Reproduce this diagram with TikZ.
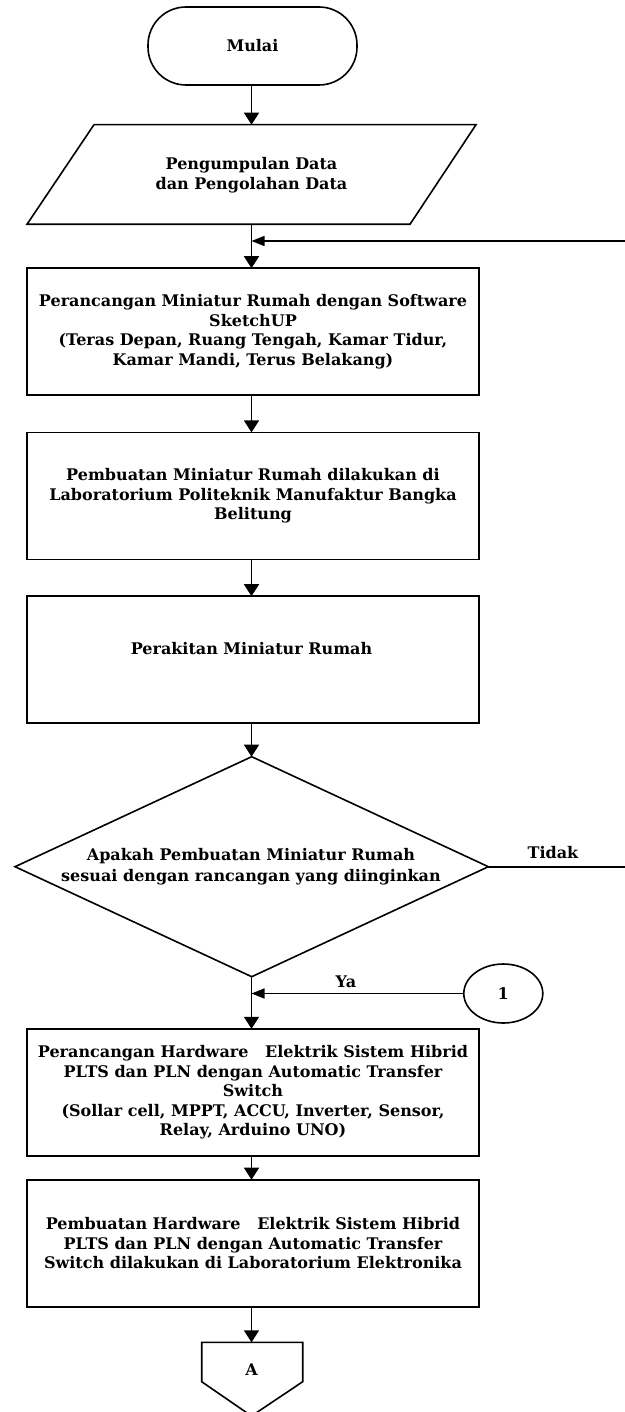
\documentclass[tikz,border=0pt]{standalone}
\usepackage{fontspec}
\setmainfont{DejaVu Serif}
\usetikzlibrary{arrows.meta,shapes.geometric}
\tikzset{
  every node/.style={font=\fontsize{16pt}{19.6pt}\selectfont\bfseries, outer sep=0pt},
  ln/.style={line width=1.6pt},
  box/.style={ln, draw, minimum width=452pt, minimum height=127pt, align=center, inner sep=0pt},
  arr/.style={ln, -{Triangle[length=12pt,width=15pt]}},
  harr/.style={ln, -{Triangle[length=13pt,width=10pt]}},
  txt/.style={align=center, inner sep=0pt},
}
\begin{document}
\begin{tikzpicture}[x=1pt,y=-1pt]
\useasboundingbox (0,0) rectangle (624,1412);
% main column
\coordinate (col) at (251.5,0);
% start
\node[ln, draw, rounded corners=38pt, minimum width=209pt, minimum height=78pt, inner sep=0pt] (mulai) at (252.5,46) {Mulai};
% data (parallelogram)
\coordinate (p1) at (94,124.7);
\coordinate (p2) at (476,124.7);
\coordinate (p3) at (410,224.3);
\coordinate (p4) at (27,224.3);
\draw[ln] (p1) -- (p2) -- (p3) -- (p4) -- cycle;
\node[txt] (data) at (251.5,175) {Pengumpulan Data\\dan Pengolahan Data};
\coordinate (dtop) at (251.5,124.7);
\coordinate (dbot) at (251.5,224.3);
% boxes
\node[box] (r1) at (253,331.7) {Perancangan Miniatur Rumah dengan Software\\SketchUP\\(Teras Depan, Ruang Tengah, Kamar Tidur,\\Kamar Mandi, Terus Belakang)};
\node[box] (r2) at (253,495.9) {Pembuatan Miniatur Rumah dilakukan di\\Laboratorium Politeknik Manufaktur Bangka\\Belitung};
\node[box] (r3) at (253,659.7) {};
\node[txt] (r3t) at (251.5,649) {Perakitan Miniatur Rumah};
% decision
\node[ln, draw, diamond, minimum width=473.3pt, minimum height=220pt, inner sep=0pt] (dec) at (251.7,866.7) {};
\node[txt, font=\fontsize{16pt}{20.7pt}\selectfont\bfseries] (dect) at (251,866.4) {Apakah Pembuatan Miniatur Rumah\\sesuai dengan rancangan yang diinginkan};
\node[box] (r4) at (253,1092.3) {Perancangan Hardware \ \ Elektrik Sistem Hibrid\\PLTS dan PLN dengan Automatic Transfer\\Switch\\(Sollar cell, MPPT, ACCU, Inverter, Sensor,\\Relay, Arduino UNO)};
\node[box] (r5) at (253,1243.2) {Pembuatan Hardware \ \ Elektrik Sistem Hibrid\\PLTS dan PLN dengan Automatic Transfer\\Switch dilakukan di Laboratorium Elektronika};
% connector 1
\node[ln, draw, ellipse, minimum width=79pt, minimum height=59pt, inner sep=0pt] (one) at (503.3,993.5) {1};
% off-page connector A
\coordinate (a1) at (201.7,1342.3);
\coordinate (a2) at (302.7,1342.3);
\coordinate (a3) at (302.7,1381.7);
\coordinate (a4) at (251.5,1416);
\coordinate (a5) at (201.7,1381.7);
\draw[ln] (a1) -- (a2) -- (a3) -- (a4) -- (a5) -- cycle;
\node[txt] (atxt) at (251.7,1370) {A};
\coordinate (atop) at (251.5,1342.3);
% connectors
\draw[arr] (mulai.south -| col) -- (dtop);
\coordinate (j1) at (251.5,241);
\draw[arr] (dbot) -- (r1.north -| col);
\draw[arr] (r1.south -| col) -- (r2.north -| col);
\draw[arr] (r2.south -| col) -- (r3.north -| col);
\draw[arr] (r3.south -| col) -- (dec.north -| col);
\coordinate (fbr) at (628,241);
\draw[harr] (dec.east) -- (dec.east -| fbr) -- (fbr) -- (j1);
\node[txt] (tidak) at (553,853) {Tidak};
\draw[arr] (dec.south -| col) -- (r4.north -| col);
\node[txt] (ya) at (346,981.7) {Ya};
\draw[harr] (one.west) -- (one.west -| col);
\draw[arr] (r4.south -| col) -- (r5.north -| col);
\draw[arr] (r5.south -| col) -- (atop);
\end{tikzpicture}
\end{document}
